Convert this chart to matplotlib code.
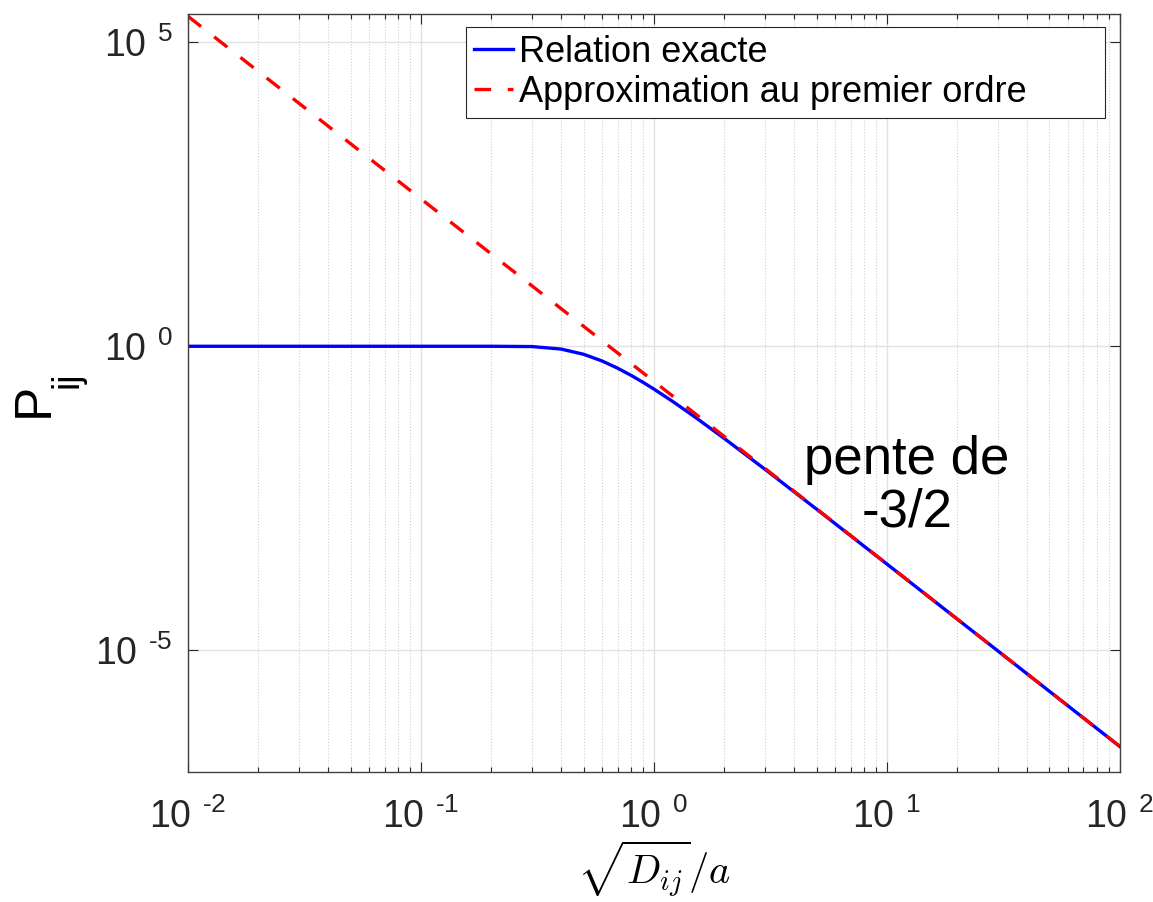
import numpy as np
import matplotlib
matplotlib.use("Agg")
import matplotlib.pyplot as plt
from matplotlib.ticker import FixedLocator, LogLocator, FuncFormatter, NullFormatter, NullLocator

plt.rcParams['font.family'] = ['Liberation Sans', 'DejaVu Sans']
plt.rcParams['mathtext.fontset'] = 'custom'
plt.rcParams['mathtext.rm'] = 'Liberation Sans'
plt.rcParams['mathtext.it'] = 'Liberation Sans:italic'

# curve values
x_exact = [0.01, 0.1, 0.2, 0.3, 0.4, 0.5, 0.6, 0.7, 0.8, 0.9, 1.0, 1.2, 1.5,
           2.0, 3.0, 5.0, 10.0, 20.0, 50.0, 100.0]
p_exact = [1.0, 1.0, 0.99998, 0.989, 0.900, 0.7385, 0.5727, 0.436, 0.332,
           0.2553, 0.1987, 0.1255, 0.0691, 0.03086, 0.00953, 2.1025e-3,
           2.652e-4, 3.322e-5, 2.128e-6, 2.66e-7]

x_approx = [0.01, 0.1, 1.0, 10.0, 100.0]
p_approx = [2.66e5, 266.0, 0.266, 2.66e-4, 2.66e-7]

legend_labels = ['Relation exacte', 'Approximation au premier ordre']
x_ticks = [1e-2, 1e-1, 1e0, 1e1, 1e2]
y_ticks = [1e-5, 1e0, 1e5]
note = 'pente de\n-3/2'

fig = plt.figure(figsize=(11.53, 9.02), dpi=100)
ax = fig.add_axes([0.163, 0.144, 0.808, 0.8405])

ax.loglog(x_exact, p_exact, color='#0000ff', lw=2.4, label=legend_labels[0])
ax.loglog(x_approx, p_approx, color='#ff0000', lw=2.4, dashes=(5, 5),
          label=legend_labels[1])

ax.set_xlim(1e-2, 1e2)
ax.set_ylim(1e-7, 2.9e5)

ax.xaxis.set_major_locator(FixedLocator(x_ticks))
ax.xaxis.set_minor_locator(LogLocator(base=10, subs=np.arange(2, 10)))
ax.xaxis.set_minor_formatter(NullFormatter())
ax.yaxis.set_major_locator(FixedLocator(y_ticks))
ax.yaxis.set_minor_locator(NullLocator())


def pow_label(v, pos):
    e = int(round(np.log10(v)))
    if e < 0:
        return r'$\mathregular{10^{\:\;\text{-}%d}}$' % (-e)
    return r'$\mathregular{10^{\:\;%d}}$' % e


fmt = FuncFormatter(pow_label)
ax.xaxis.set_major_formatter(fmt)
ax.yaxis.set_major_formatter(fmt)

ax.tick_params(which='both', direction='in', top=True, right=True,
               color='#262626', labelcolor='#262626', labelsize=27, width=0.8)
ax.tick_params(which='major', length=7.2)
ax.tick_params(which='minor', length=3.6)
ax.tick_params(axis='x', pad=19)
ax.tick_params(axis='y', pad=11)

for s in ax.spines.values():
    s.set_color('#404040')
    s.set_linewidth(1.0)

ax.grid(which='major', color='#e2e2e2', lw=1.0, ls='-')
ax.grid(which='minor', axis='x', color='#d0d0d0', lw=0.8, ls=':')
ax.set_axisbelow(True)

# y label: P with a dropped subscript, as in the original
fig.text(34 / 1153, 1 - 400 / 902, 'P', rotation=90, fontsize=37,
         ha='center', va='center', color='black')
fig.text(67 / 1153, 1 - 380 / 902, 'ij', rotation=90, fontsize=27,
         ha='center', va='center', color='black')

ax.set_xlabel(r'$\sqrt{D_{ij}}/a$', fontsize=29, math_fontfamily='cm')
ax.xaxis.set_label_coords(0.5, -0.088)

ax.text(12.2, 5e-3, note, fontsize=38, ha='center', va='center',
        multialignment='center', linespacing=1.05)

leg = ax.legend(loc='upper left', bbox_to_anchor=(0.298, 0.863, 0.686, 0.12),
                mode='expand', borderaxespad=0,
                fontsize=26, fancybox=False, edgecolor='#262626', framealpha=1,
                borderpad=0.22, handlelength=1.1, handletextpad=0.17, labelspacing=0.14)
leg.get_frame().set_linewidth(0.8)

fig.savefig('out.png', dpi=100)
